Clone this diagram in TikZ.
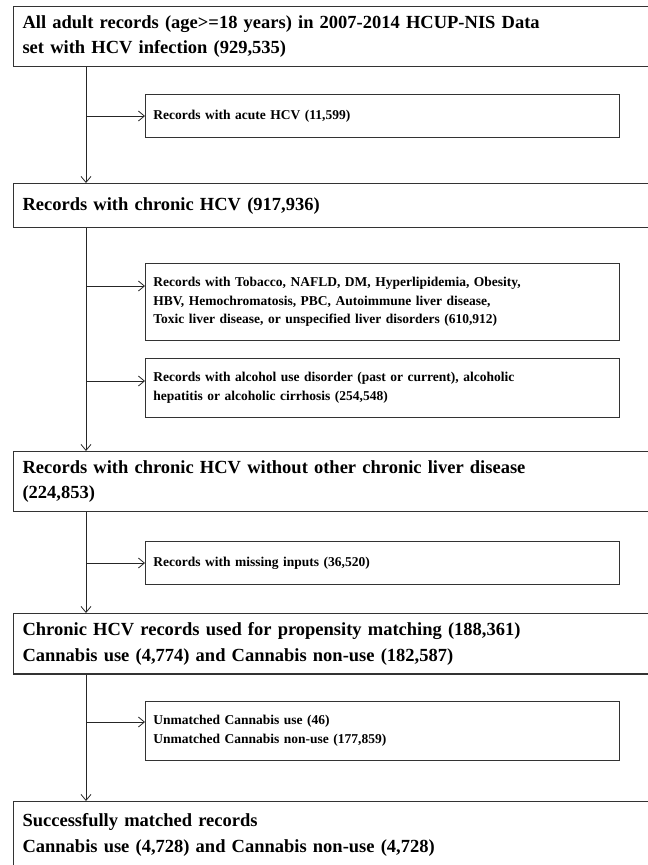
\documentclass[tikz,border=0pt]{standalone}
\usepackage{fontspec}
\setmainfont{Liberation Serif}
\usetikzlibrary{arrows.meta, positioning}
\tikzstyle{mainbox} = [draw=black!80, line width=1.1pt, rectangle, anchor=north west, align=left, text width=628pt, inner xsep=9pt, inner ysep=9pt, minimum height=44pt, font=\fontsize{18.5}{25.5}\selectfont\bfseries]
\tikzstyle{sidebox} = [draw=black!80, line width=0.9pt, rectangle, anchor=north west, align=left, text width=458pt, inner xsep=8pt, inner ysep=14pt, minimum height=43pt, font=\fontsize{13.5}{18.5}\selectfont\bfseries]
\tikzstyle{flow} = [draw=black!85, line width=0.8pt, -{Straight Barb[length=6pt,width=10pt]}]

\begin{document}
\begin{tikzpicture}[x=1pt, y=-1pt]
	\useasboundingbox (0,0) rectangle (648,865);
	\coordinate (spine) at (86,0);
	\node [mainbox] (all) at (13,6) {All adult records (age>=18 years) in 2007-2014 HCUP-NIS Data\\set with HCV infection (929,535)};
	\node [sidebox] (acute) at (145,94) {Records with acute HCV (11,599)};
	\node [mainbox] (chronic) at (13,183) {Records with chronic HCV (917,936)};
	\node [sidebox] (other) at (145,263) {Records with Tobacco, NAFLD, DM, Hyperlipidemia, Obesity,\\HBV, Hemochromatosis, PBC, Autoimmune liver disease,\\Toxic liver disease, or unspecified liver disorders (610,912)};
	\node [sidebox] (alcohol) at (145,358) {Records with alcohol use disorder (past or current), alcoholic\\hepatitis or alcoholic cirrhosis (254,548)};
	\node [mainbox] (noliver) at (13,451) {Records with chronic HCV without other chronic liver disease\\(224,853)};
	\node [sidebox] (missing) at (145,541) {Records with missing inputs (36,520)};
	\node [mainbox] (propensity) at (13,613) {Chronic HCV records used for propensity matching (188,361)\\Cannabis use (4,774) and Cannabis non-use (182,587)};
	\node [sidebox] (unmatched) at (145,701) {Unmatched Cannabis use (46)\\Unmatched Cannabis non-use (177,859)};
	\node [mainbox, inner ysep=12pt] (matched) at (13,801) {Successfully matched records\\Cannabis use (4,728) and Cannabis non-use (4,728)};

	% entry points of the side boxes
	\coordinate (acute in) at ([yshift=-22pt]acute.north west);
	\coordinate (other in) at ([yshift=-23pt]other.north west);
	\coordinate (alcohol in) at ([yshift=-23pt]alcohol.north west);
	\coordinate (missing in) at ([yshift=-22pt]missing.north west);
	\coordinate (unmatched in) at ([yshift=-21pt]unmatched.north west);

	\draw [flow] (all.south -| spine) -- (chronic.north -| spine);
	\draw [flow] (chronic.south -| spine) -- (noliver.north -| spine);
	\draw [flow] (noliver.south -| spine) -- (propensity.north -| spine);
	\draw [flow] (propensity.south -| spine) -- (matched.north -| spine);
	\draw [flow] (acute in -| spine) -- (acute in);
	\draw [flow] (other in -| spine) -- (other in);
	\draw [flow] (alcohol in -| spine) -- (alcohol in);
	\draw [flow] (missing in -| spine) -- (missing in);
	\draw [flow] (unmatched in -| spine) -- (unmatched in);
\end{tikzpicture}
\end{document}
